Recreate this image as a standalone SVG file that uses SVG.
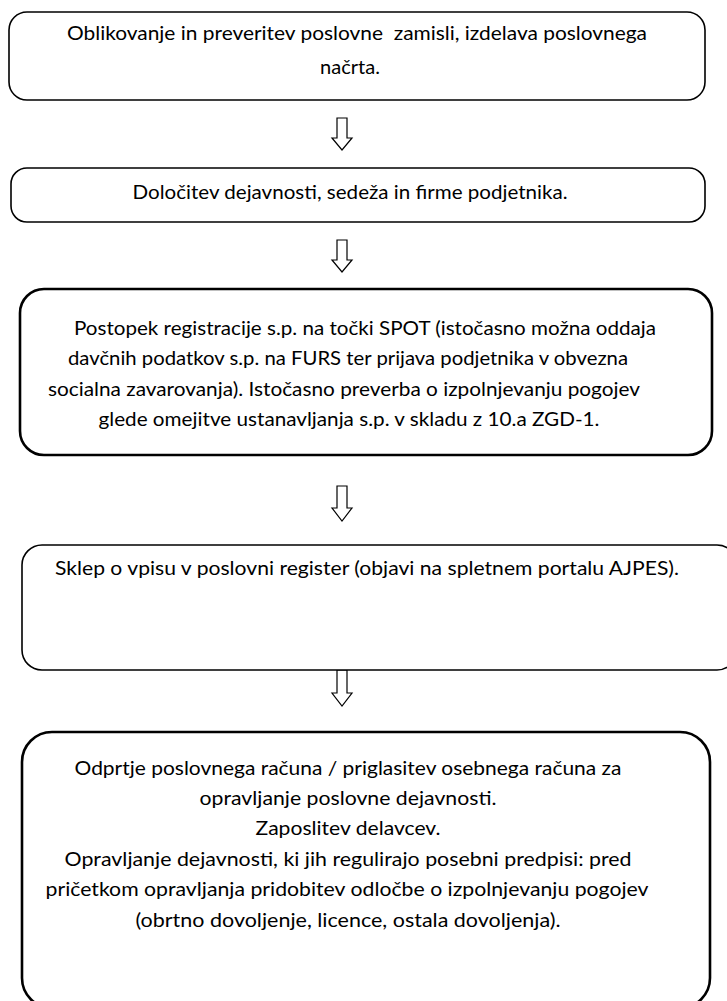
<svg xmlns="http://www.w3.org/2000/svg" width="727" height="1001" viewBox="0 0 727 1001">
<style>
.box{fill:#fff;stroke:#000;stroke-width:1.6}
.thick{stroke-width:2.6}
.t{font-family:Lato,"Liberation Sans",sans-serif;font-size:20px;fill:#000;text-anchor:middle;dominant-baseline:central;white-space:pre}
.arr{fill:#fff;stroke:#000;stroke-width:1.2;stroke-linejoin:miter}
</style>
<rect width="727" height="1001" fill="#fff"/>
<g id="connectors">
<path class="arr" d="M337,118 H347 V138 H352 L342,150 L332,138 H337 Z"/>
<path class="arr" d="M337,240 H347 V260 H352 L342,272 L332,260 H337 Z"/>
<path class="arr" d="M337,486 H347 V508 H352 L342,521 L332,508 H337 Z"/>
<path class="arr" d="M337,670 H347 V693 H352 L342,706 L332,693 H337 Z"/>
</g>
<g id="node1">
<rect class="box" x="9" y="12" width="696" height="88" rx="18"/>
<text class="t" x="357" y="32" textLength="580" lengthAdjust="spacingAndGlyphs" xml:space="preserve">Oblikovanje in preveritev poslovne  zamisli, izdelava poslovnega</text>
<text class="t" x="350" y="66" textLength="60" lengthAdjust="spacingAndGlyphs">načrta.</text>
</g>
<g id="node2">
<rect class="box" x="11" y="168" width="694" height="54" rx="16"/>
<text class="t" x="350" y="191" textLength="435" lengthAdjust="spacingAndGlyphs">Določitev dejavnosti, sedeža in firme podjetnika.</text>
</g>
<g id="node3">
<rect class="box thick" x="20" y="289" width="692" height="166" rx="24"/>
<text class="t" x="365" y="327" textLength="582" lengthAdjust="spacingAndGlyphs">Postopek registracije s.p. na točki SPOT (istočasno možna oddaja</text>
<text class="t" x="348" y="357" textLength="560" lengthAdjust="spacingAndGlyphs">davčnih podatkov s.p. na FURS ter prijava podjetnika v obvezna</text>
<text class="t" x="344" y="388" textLength="592" lengthAdjust="spacingAndGlyphs">socialna zavarovanja). Istočasno preverba o izpolnjevanju pogojev</text>
<text class="t" x="349" y="418" textLength="501" lengthAdjust="spacingAndGlyphs">glede omejitve ustanavljanja s.p. v skladu z 10.a ZGD-1.</text>
</g>
<g id="node4">
<rect class="box" x="22" y="545" width="715" height="125" rx="20"/>
<text class="t" x="367" y="567" textLength="624" lengthAdjust="spacingAndGlyphs">Sklep o vpisu v poslovni register (objavi na spletnem portalu AJPES).</text>
</g>
<g id="node5">
<rect class="box thick" x="22" y="732" width="688" height="276" rx="30"/>
<text class="t" x="348" y="767" textLength="547" lengthAdjust="spacingAndGlyphs">Odprtje poslovnega računa / priglasitev osebnega računa za</text>
<text class="t" x="348" y="797" textLength="297" lengthAdjust="spacingAndGlyphs">opravljanje poslovne dejavnosti.</text>
<text class="t" x="348" y="827" textLength="185" lengthAdjust="spacingAndGlyphs">Zaposlitev delavcev.</text>
<text class="t" x="348" y="858" textLength="567" lengthAdjust="spacingAndGlyphs">Opravljanje dejavnosti, ki jih regulirajo posebni predpisi: pred</text>
<text class="t" x="347" y="888" textLength="603" lengthAdjust="spacingAndGlyphs">pričetkom opravljanja pridobitev odločbe o izpolnjevanju pogojev</text>
<text class="t" x="348" y="919" textLength="425" lengthAdjust="spacingAndGlyphs">(obrtno dovoljenje, licence, ostala dovoljenja).</text>
</g>
</svg>
